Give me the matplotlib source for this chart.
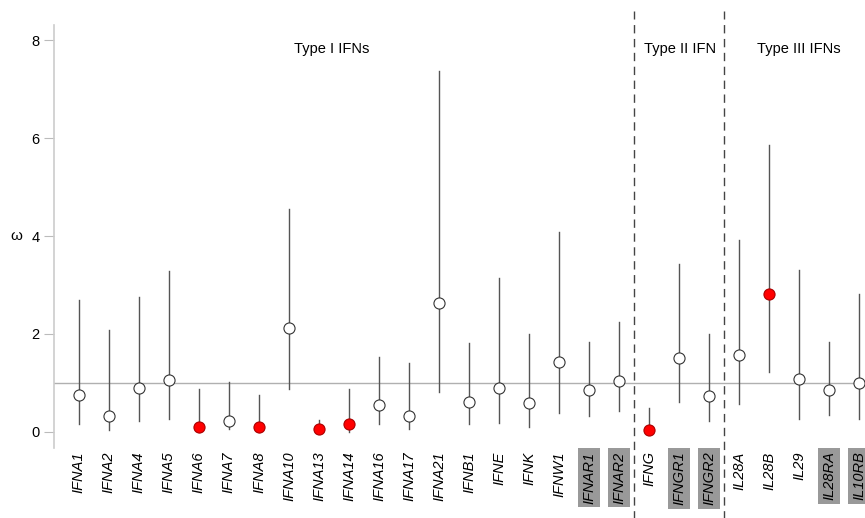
import matplotlib
matplotlib.use("Agg")
import matplotlib.pyplot as plt
import numpy as np

plt.rcParams['font.family'] = ['Liberation Sans', 'DejaVu Sans']

genes = ["IFNA1", "IFNA2", "IFNA4", "IFNA5", "IFNA6", "IFNA7", "IFNA8", "IFNA10",
         "IFNA13", "IFNA14", "IFNA16", "IFNA17", "IFNA21", "IFNB1", "IFNE", "IFNK",
         "IFNW1", "IFNAR1", "IFNAR2",
         "IFNG", "IFNGR1", "IFNGR2",
         "IL28A", "IL28B", "IL29", "IL28RA", "IL10RB"]
omega = [0.76, 0.33, 0.89, 1.06, 0.09, 0.22, 0.10, 2.13,
         0.05, 0.16, 0.54, 0.32, 2.64, 0.61, 0.89, 0.58,
         1.43, 0.85, 1.04,
         0.03, 1.50, 0.74,
         1.56, 2.82, 1.07, 0.85, 0.99]
lower = [0.16, 0.04, 0.22, 0.27, 0.00, 0.05, 0.00, 0.88,
         0.00, 0.00, 0.16, 0.06, 0.81, 0.16, 0.18, 0.10,
         0.38, 0.33, 0.43,
         0.00, 0.61, 0.22,
         0.57, 1.22, 0.27, 0.34, 0.27]
upper = [2.69, 2.09, 2.76, 3.29, 0.88, 1.02, 0.75, 4.55,
         0.25, 0.88, 1.52, 1.41, 7.37, 1.82, 3.15, 1.99,
         4.08, 1.84, 2.24,
         0.48, 3.42, 1.99,
         3.92, 5.85, 3.31, 1.84, 2.82]
# positively selected (red) genes
selected = ["IFNA6", "IFNA8", "IFNA13", "IFNA14", "IFNG", "IL28B"]
# receptor genes get a grey box
receptors = ["IFNAR1", "IFNAR2", "IFNGR1", "IFNGR2", "IL28RA", "IL10RB"]
groups = ["Type I IFNs", "Type II IFN", "Type III IFNs"]
group_sizes = [19, 3, 5]
group_label_x = [8.43, 20.03, 24.0]

fig = plt.figure(figsize=(8.65, 5.18), dpi=100)
ax = fig.add_axes([54 / 865, (518 - 448) / 518, 1 - 54 / 865, (448 - 25) / 518])

x = np.arange(len(genes))
ax.axhline(1, color="#b0b0b0", lw=1, zorder=1)
for i in range(len(genes)):
    ax.plot([x[i], x[i]], [lower[i], upper[i]], color="#555555", lw=1, zorder=2)
    red = genes[i] in selected
    ax.plot(x[i], omega[i], "o", ms=8, mfc="red" if red else "white",
            mec="#aa0000" if red else "#333333", mew=0.8, zorder=3)

ax.set_xlim(-0.83, 26.2)
ax.set_ylim(-0.33, 8.31)

# dashed group separators, running down into the label area
edges = np.cumsum(group_sizes)[:-1] - 0.5
for e in edges:
    ax.plot([e, e], [-1.8, 8.59], color="#444444", lw=1, ls=(0, (6, 4)),
            clip_on=False, zorder=1)

for g, c in zip(groups, group_label_x):
    ax.text(c, 7.82, g, ha="center", va="center", fontsize=10.5)

ax.set_yticks([0, 2, 4, 6, 8])
ax.set_xticks([])
ax.tick_params(axis="y", colors="#bbbbbb", labelcolor="black", length=7,
               labelsize=10.5)
for s in ["top", "right", "bottom"]:
    ax.spines[s].set_visible(False)
ax.spines["left"].set_color("#cccccc")
ax.spines["left"].set_linewidth(1.2)

ax.text(-2.1, 4, "ω", fontsize=11, ha="center", va="center", clip_on=False)

for i, g in enumerate(genes):
    box = None
    if g in receptors:
        box = dict(boxstyle="square,pad=0.25", fc="#999999", ec="none")
    ax.text(x[i], -0.4, g, rotation=90, ha="center", va="top", fontsize=10.5,
            style="italic", bbox=box, clip_on=False)

fig.savefig("out.png", dpi=100)
